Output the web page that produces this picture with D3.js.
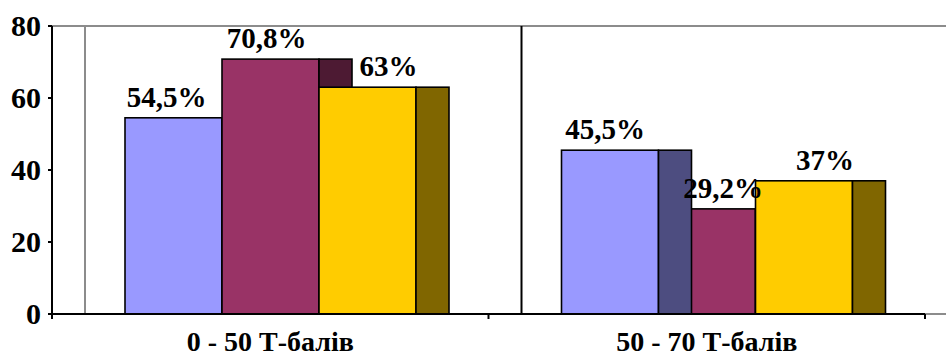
<!DOCTYPE html>
<html>
<head>
<meta charset="utf-8">
<script src="https://cdn.jsdelivr.net/npm/d3@7"></script>
</head>
<body style="margin:0">
<svg id="chart" width="946" height="356"></svg>
<script>
const categories = ["0 - 50 Т-балів", "50 - 70 Т-балів"];
const series = ["s1", "s2", "s3"];
const values = [
  [54.5, 70.8, 63],
  [45.5, 29.2, 37]
];
const valueLabels = [
  ["54,5%", "70,8%", "63%"],
  ["45,5%", "29,2%", "37%"]
];
const yTicks = [0, 20, 40, 60, 80];

// Colours: front face and side face per series
const frontColors = ["#9999ff", "#993366", "#ffcc00"];
const sideColors = ["#4d4d80", "#4d1a33", "#806600"];

// Excel overlap quirks: paint order and label nudges per group
const drawOrder = [[0, 1, 2], [1, 0, 2]];
const labelNudge = [[-7, -4, 21], [-5, 16, 21]];

const width = 946;
const height = 356;
const margin = { top: 26, right: 21, bottom: 42, left: 52 };
const depth = 33;
const font = "Liberation Serif";

const svg = d3.select("#chart");

const x = d3.scaleBand()
  .domain(categories)
  .range([margin.left, width - margin.right]);

const xInner = d3.scaleBand()
  .domain(series)
  .range([73, 73 + 3 * 97]);

const y = d3.scaleLinear()
  .domain([0, 80])
  .range([height - margin.bottom, margin.top]);

const y0 = y(0);

// Back wall / floor lines
svg.append("line")
  .attr("x1", margin.left).attr("x2", width)
  .attr("y1", y(80)).attr("y2", y(80))
  .attr("stroke", "#8c8c8c").attr("stroke-width", 2);

svg.append("line")
  .attr("x1", x.range()[1]).attr("x2", width)
  .attr("y1", y0).attr("y2", y0)
  .attr("stroke", "#8c8c8c").attr("stroke-width", 2);

categories.forEach((c, i) => {
  svg.append("line")
    .attr("x1", x(c) + depth).attr("x2", x(c) + depth)
    .attr("y1", y(80)).attr("y2", y0)
    .attr("stroke", i === 0 ? "#8c8c8c" : "#000")
    .attr("stroke-width", 2);
});

// Bars
categories.forEach((c, gi) => {
  const g = svg.append("g");
  drawOrder[gi].forEach(si => {
    const bx = x(c) + xInner(series[si]);
    const bw = xInner.bandwidth();
    const top = y(values[gi][si]);
    g.append("rect")
      .attr("x", bx).attr("y", top)
      .attr("width", bw).attr("height", y0 - top)
      .attr("fill", frontColors[si])
      .attr("stroke", "#000").attr("stroke-width", 1.6);
    g.append("rect")
      .attr("x", bx + bw).attr("y", top)
      .attr("width", depth).attr("height", y0 - top)
      .attr("fill", sideColors[si])
      .attr("stroke", "#000").attr("stroke-width", 1.6);
  });
});

// Value labels
const labels = [];
categories.forEach((c, gi) => {
  series.forEach((s, si) => {
    labels.push({
      x: x(c) + xInner(s) + xInner.bandwidth() / 2 + labelNudge[gi][si],
      y: y(values[gi][si]) - 11,
      t: valueLabels[gi][si]
    });
  });
});
svg.selectAll(".val")
  .data(labels)
  .join("text")
  .attr("x", d => d.x)
  .attr("y", d => d.y)
  .attr("text-anchor", "middle")
  .attr("font-family", font)
  .attr("font-weight", "bold")
  .attr("font-size", 29)
  .text(d => d.t);

// X axis
svg.append("line")
  .attr("x1", margin.left).attr("x2", x.range()[1])
  .attr("y1", y0).attr("y2", y0)
  .attr("stroke", "#000").attr("stroke-width", 2);
svg.selectAll(".xtick")
  .data(categories)
  .join("line")
  .attr("x1", d => x(d) + x.bandwidth()).attr("x2", d => x(d) + x.bandwidth())
  .attr("y1", y0).attr("y2", y0 + 5)
  .attr("stroke", "#000").attr("stroke-width", 2);
svg.selectAll(".cat")
  .data(categories)
  .join("text")
  .attr("x", d => x(d) + x.bandwidth() / 2)
  .attr("y", y0 + 37)
  .attr("text-anchor", "middle")
  .attr("font-family", font)
  .attr("font-weight", "bold")
  .attr("font-size", 28)
  .text(d => d);

// Y axis
svg.append("line")
  .attr("x1", margin.left).attr("x2", margin.left)
  .attr("y1", y(80)).attr("y2", y0 + 5)
  .attr("stroke", "#000").attr("stroke-width", 2);
svg.selectAll(".ytick")
  .data(yTicks)
  .join("line")
  .attr("x1", margin.left - 4).attr("x2", margin.left)
  .attr("y1", d => y(d)).attr("y2", d => y(d))
  .attr("stroke", "#000").attr("stroke-width", 2);
svg.selectAll(".ylbl")
  .data(yTicks)
  .join("text")
  .attr("x", margin.left - 11)
  .attr("y", d => y(d) + 10)
  .attr("text-anchor", "end")
  .attr("font-family", font)
  .attr("font-weight", "bold")
  .attr("font-size", 30)
  .text(d => d);
</script>
</body>
</html>
